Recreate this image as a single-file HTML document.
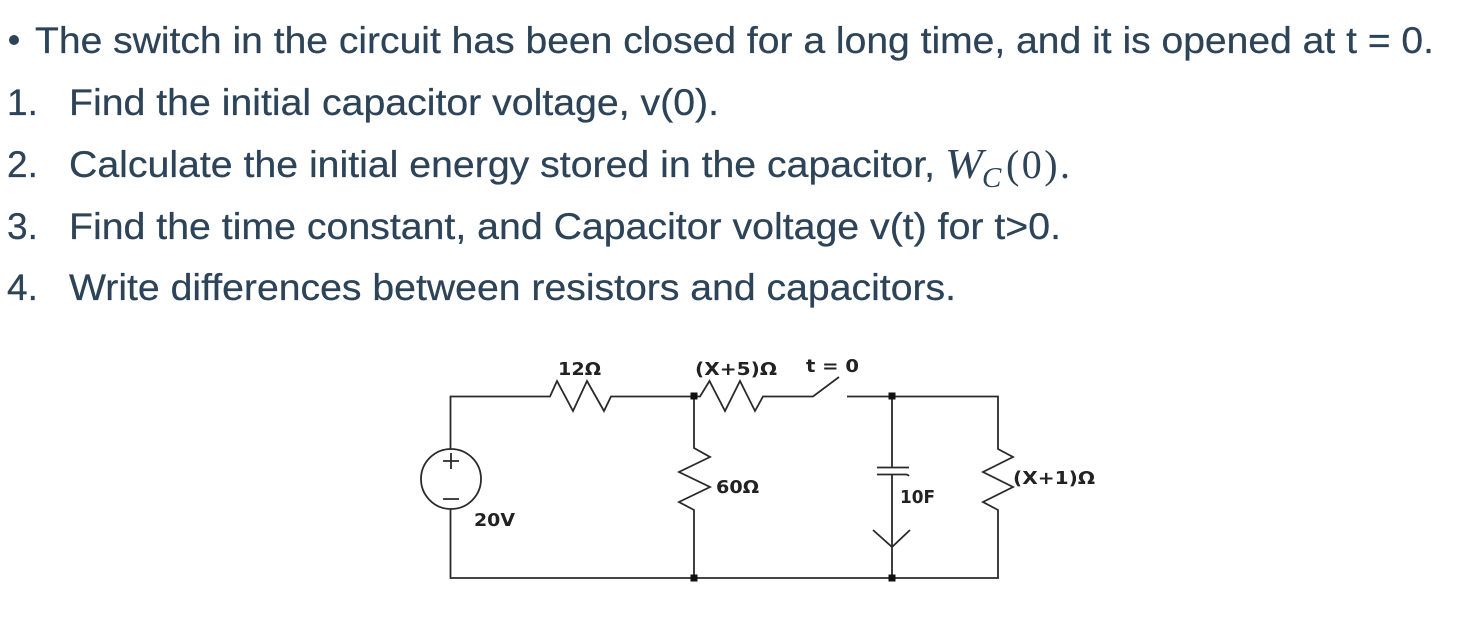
<!DOCTYPE html>
<html><head><meta charset="utf-8"><style>
html,body{margin:0;padding:0;background:#fff;width:1468px;height:636px;overflow:hidden}
svg{display:block;filter:blur(0.35px)}
.t{font-family:"Liberation Sans",sans-serif;font-size:37px;fill:#2c4358;stroke:#2c4358;stroke-width:0.25}
.m{font-family:"Liberation Serif",serif;fill:#2c4358}
.l{font-family:"DejaVu Sans",sans-serif;font-weight:bold;font-size:17.5px;fill:#222}
.w{fill:none;stroke:#2a2a2a;stroke-width:1.8}
.n{fill:#111}
</style></head><body>
<svg width="1468" height="636" viewBox="0 0 1468 636" xmlns="http://www.w3.org/2000/svg">
<rect width="1468" height="636" fill="#fff"/>
<circle cx="14" cy="40" r="5" fill="#2c4358"/>
<text class="t" x="35" y="53" textLength="1399" lengthAdjust="spacingAndGlyphs">The switch in the circuit has been closed for a long time, and it is opened at t = 0.</text>
<text class="t" x="7" y="115">1.</text>
<text class="t" x="69" y="115" textLength="650" lengthAdjust="spacingAndGlyphs">Find the initial capacitor voltage, v(0).</text>
<text class="t" x="7" y="177">2.</text>
<text class="t" x="69" y="177" textLength="866" lengthAdjust="spacingAndGlyphs">Calculate the initial energy stored in the capacitor,</text>
<text class="m" x="945" y="178" font-size="42" font-style="italic" textLength="38" lengthAdjust="spacingAndGlyphs">W</text>
<text class="m" x="982" y="187" font-size="29" font-style="italic">C</text>
<text class="m" x="1006" y="178" font-size="40" textLength="64" lengthAdjust="spacing">(0).</text>
<text class="t" x="7" y="239">3.</text>
<text class="t" x="69" y="239" textLength="992" lengthAdjust="spacingAndGlyphs">Find the time constant, and Capacitor voltage v(t) for t&gt;0.</text>
<text class="t" x="7" y="300">4.</text>
<text class="t" x="69" y="300" textLength="887" lengthAdjust="spacingAndGlyphs">Write differences between resistors and capacitors.</text>

<path class="w" d="M450.5 449V396.5H550L557 381L573 411L587 381L604 411L611 396.5H694H700L709.5 381L725 411L740 381L755 411L763 396.5H813L839 377"/>
<path class="w" d="M847 396.5H998V449L1013 457L983 472L1013 487L983 502L998 510V578H450.5V509"/>
<path class="w" d="M694 396.5V448L710 457L679 472L710 487L679 502L694 510V578"/>
<path class="w" d="M892 396.5V467M892 475V578M877 467.5H909M877 474.5H906Q908 474.5 909 476M873 530L892 547L910 530"/>
<circle class="w" cx="451" cy="479" r="30"/>
<path class="w" d="M443 461H459M451 453V469M443 499H459"/>
<rect class="n" x="690.500" y="392.500" width="7" height="7"/>
<rect class="n" x="690.500" y="574.500" width="7" height="7"/>
<rect class="n" x="888.500" y="392.500" width="7" height="7"/>
<rect class="n" x="888.500" y="574.500" width="7" height="7"/>

<text class="l" x="558" y="375" textLength="43" lengthAdjust="spacingAndGlyphs">12Ω</text>
<text class="l" x="695" y="375" textLength="82" lengthAdjust="spacingAndGlyphs">(X+5)Ω</text>
<text class="l" x="806" y="372" textLength="53" lengthAdjust="spacingAndGlyphs">t = 0</text>
<text class="l" x="716" y="493" textLength="43" lengthAdjust="spacingAndGlyphs">60Ω</text>
<text class="l" x="474" y="526" textLength="41" lengthAdjust="spacingAndGlyphs">20V</text>
<text class="l" x="900" y="503" textLength="35" lengthAdjust="spacingAndGlyphs">10F</text>
<text class="l" x="1013" y="484" textLength="82" lengthAdjust="spacingAndGlyphs">(X+1)Ω</text>
</svg>
</body></html>
